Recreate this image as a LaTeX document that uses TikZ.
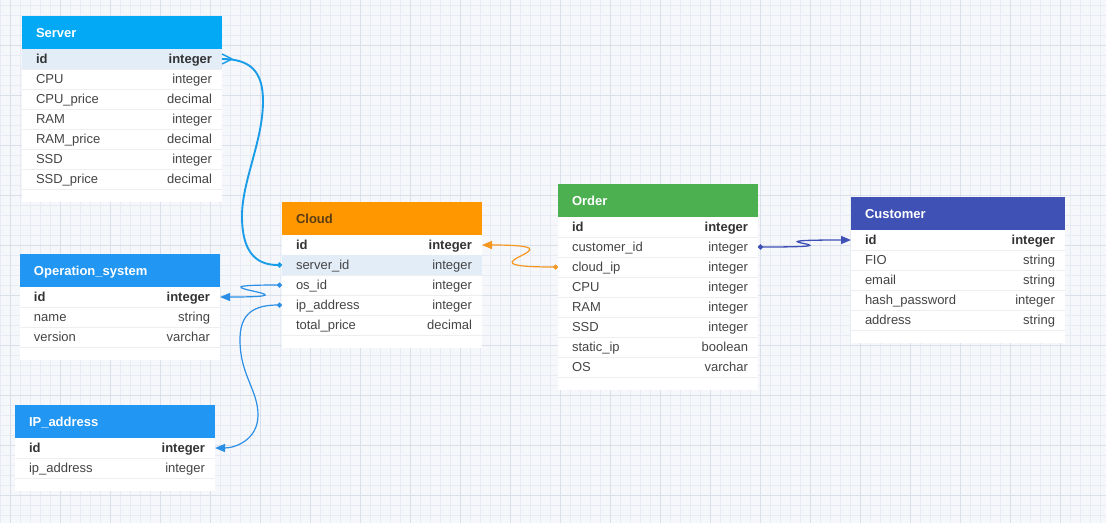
\documentclass[tikz,border=0pt]{standalone}
\usepackage{fontspec}
\setmainfont{Liberation Sans}
\usetikzlibrary{arrows.meta,calc}

% palette
\definecolor{canvas}{HTML}{F5F7FB}
\definecolor{gridminor}{HTML}{E7EBF3}
\definecolor{gridmajor}{HTML}{DAE0EA}
\definecolor{rowhl}{HTML}{E3EDF8}
\definecolor{rowline}{HTML}{ECEEF1}
\definecolor{fieldgray}{HTML}{444444}
\definecolor{keygray}{HTML}{333333}
\definecolor{serverhead}{HTML}{03A9F4}
\definecolor{bluehead}{HTML}{2196F3}
\definecolor{cloudhead}{HTML}{FF9800}
\definecolor{cloudtitle}{HTML}{5A3D12}
\definecolor{orderhead}{HTML}{4CAF50}
\definecolor{customerhead}{HTML}{3F51B5}
\definecolor{serverlinkc}{HTML}{1A9DE8}
\definecolor{bluelinkc}{HTML}{2B8FE6}
\definecolor{orangelinkc}{HTML}{F5961E}
\definecolor{indigolinkc}{HTML}{3F51B5}

\tikzset{
  tablebody/.style={anchor=north west, fill=white, draw=none, inner sep=0pt, outer sep=0pt},
  tablehead/.style={anchor=north west, minimum height=33pt, draw=none, inner sep=0pt, outer sep=0pt},
  headtext/.style={anchor=base west, inner sep=0pt, outer sep=0pt, font=\bfseries\fontsize{13}{15}\selectfont},
  rowcell/.style={anchor=north west, minimum height=20pt, draw=none, inner sep=0pt, outer sep=0pt},
  rowsep/.style={draw=rowline, line width=0.8pt},
  fieldtext/.style={anchor=base west, inner sep=0pt, outer sep=0pt, text=fieldgray, font=\fontsize{13}{15}\selectfont},
  pk-bg/.style={},
  pkhl-bg/.style={fill=rowhl},
  fld-bg/.style={},
  fldhl-bg/.style={fill=rowhl},
  pk-txt/.style={text=keygray, font=\bfseries\fontsize{13}{15}\selectfont},
  pkhl-txt/.style={text=keygray, font=\bfseries\fontsize{13}{15}\selectfont},
  fld-txt/.style={},
  fldhl-txt/.style={},
  serverlink/.style={draw=serverlinkc, line width=1.9pt},
  bluelink/.style={draw=bluelinkc, line width=1.2pt},
  orangelink/.style={draw=orangelinkc, line width=1.2pt},
  indigolink/.style={draw=indigolinkc, line width=1.3pt},
  reltip/.style={{Circle[length=5pt]}-{Triangle[length=10pt,width=8pt]}},
}

% #1 key, #2 left, #3 top, #4 width, #5 number of rows,
% #6 header fill, #7 title colour, #8 title, #9 fields key/name/type/style
\newcommand\erdtable[9]{%
  \begin{scope}[shift={(#2,#3)}]
    \node[tablebody, minimum width=#4pt, minimum height={33pt+#5*20pt+13pt}] (#1-body) at (0,0) {};
    \node[tablehead, fill=#6, minimum width=#4pt] (#1-head) at (0,0) {};
    \node[headtext, text=#7, xshift=14pt, yshift=-4.5pt] (#1-title) at (#1-head.west) {#8};
    \foreach \k/\f/\t/\s [count=\i] in {#9} {
      \node[rowcell, minimum width=#4pt, \s-bg] (#1-\k) at (0,{33+(\i-1)*20}) {};
      \draw[rowsep] (#1-\k.south west) -- (#1-\k.south east);
      \node[fieldtext, \s-txt, xshift=14pt, yshift=-4.5pt] (#1-\k-f) at (#1-\k.west) {\f};
      \node[fieldtext, \s-txt, anchor=base east, xshift=-10pt, yshift=-4.5pt] (#1-\k-t) at (#1-\k.east) {\t};
    }
  \end{scope}}

\begin{document}
\begin{tikzpicture}[x=1pt, y=-1pt]
  \useasboundingbox (0,0) rectangle (1106,523);

  % grid paper
  \fill[canvas] (0,0) rectangle (1106,523);
  \foreach \gx in {0,10,...,1100} \draw[gridminor, line width=0.6pt] (\gx,0) -- (\gx,523);
  \foreach \gy in {5,15,...,515} \draw[gridminor, line width=0.6pt] (0,\gy) -- (1106,\gy);
  \foreach \gx in {10,60,...,1060} \draw[gridmajor, line width=0.8pt] (\gx,0) -- (\gx,523);
  \foreach \gy in {45,95,...,495} \draw[gridmajor, line width=0.8pt] (0,\gy) -- (1106,\gy);

  % tables
  \erdtable{server}{22}{16}{200}{7}{serverhead}{white}{Server}{%
    id/id/integer/pkhl, cpu/CPU/integer/fld, cpuprice/CPU\_price/decimal/fld,
    ram/RAM/integer/fld, ramprice/RAM\_price/decimal/fld, ssd/SSD/integer/fld,
    ssdprice/SSD\_price/decimal/fld}

  \erdtable{cloud}{282}{202}{200}{5}{cloudhead}{cloudtitle}{Cloud}{%
    id/id/integer/pk, serverid/server\_id/integer/fldhl, osid/os\_id/integer/fld,
    ipaddr/ip\_address/integer/fld, total/total\_price/decimal/fld}

  \erdtable{order}{558}{184}{200}{8}{orderhead}{white}{Order}{%
    id/id/integer/pk, custid/customer\_id/integer/fld, cloudip/cloud\_ip/integer/fld,
    cpu/CPU/integer/fld, ram/RAM/integer/fld, ssd/SSD/integer/fld,
    staticip/static\_ip/boolean/fld, os/OS/varchar/fld}

  \erdtable{cust}{851}{197}{214}{5}{customerhead}{white}{Customer}{%
    id/id/integer/pk, fio/FIO/string/fld, email/email/string/fld,
    hash/hash\_password/integer/fld, address/address/string/fld}

  \erdtable{os}{20}{254}{200}{3}{bluehead}{white}{Operation\_system}{%
    id/id/integer/pk, name/name/string/fld, version/version/varchar/fld}

  \erdtable{ip}{15}{405}{200}{2}{bluehead}{white}{IP\_address}{%
    id/id/integer/pk, ipaddr/ip\_address/integer/fld}

  % Server.id  ->  Cloud.server_id
  \draw[serverlink, -{Circle[length=5pt]}] (server-id.east)
    .. controls +(28,0) and +(0,-30) .. ($(server-id.east)+(41,42)$)
    .. controls +(0,40) and +(0,-35) .. ($(server-id.east)+(20,157)$)
    .. controls +(0,35) and +(-27,0) .. (cloud-serverid.west);
  \draw[serverlink, line width=1.5pt, line join=round]
    ($(server-id.east)+(0,-5)$) -- ($(server-id.east)+(10,0)$) -- ($(server-id.east)+(0,5)$);

  % Cloud.os_id  ->  Operation_system.id
  \draw[bluelink, reltip] (cloud-osid.west)
    .. controls +(-107,0) and +(110,0) .. (os-id.east);

  % Cloud.ip_address  ->  IP_address.id
  \draw[bluelink, reltip] (cloud-ipaddr.west)
    .. controls +(-35,0) and +(0,-20) .. ($(cloud-ipaddr.west)+(-42,35)$)
    .. controls +(0,35) and +(0,-25) .. ($(cloud-ipaddr.west)+(-24,110)$)
    .. controls +(0,25) and +(20,0) .. (ip-id.east);

  % Order.cloud_ip  ->  Cloud.id
  \draw[orangelink, reltip] (order-cloudip.west)
    .. controls +(-112,0) and +(112,0) .. (cloud-id.east);

  % Order.customer_id  ->  Customer.id
  \draw[indigolink, reltip] (order-custid.east)
    .. controls +(120,0) and +(-120,0) .. (cust-id.west);
\end{tikzpicture}
\end{document}
